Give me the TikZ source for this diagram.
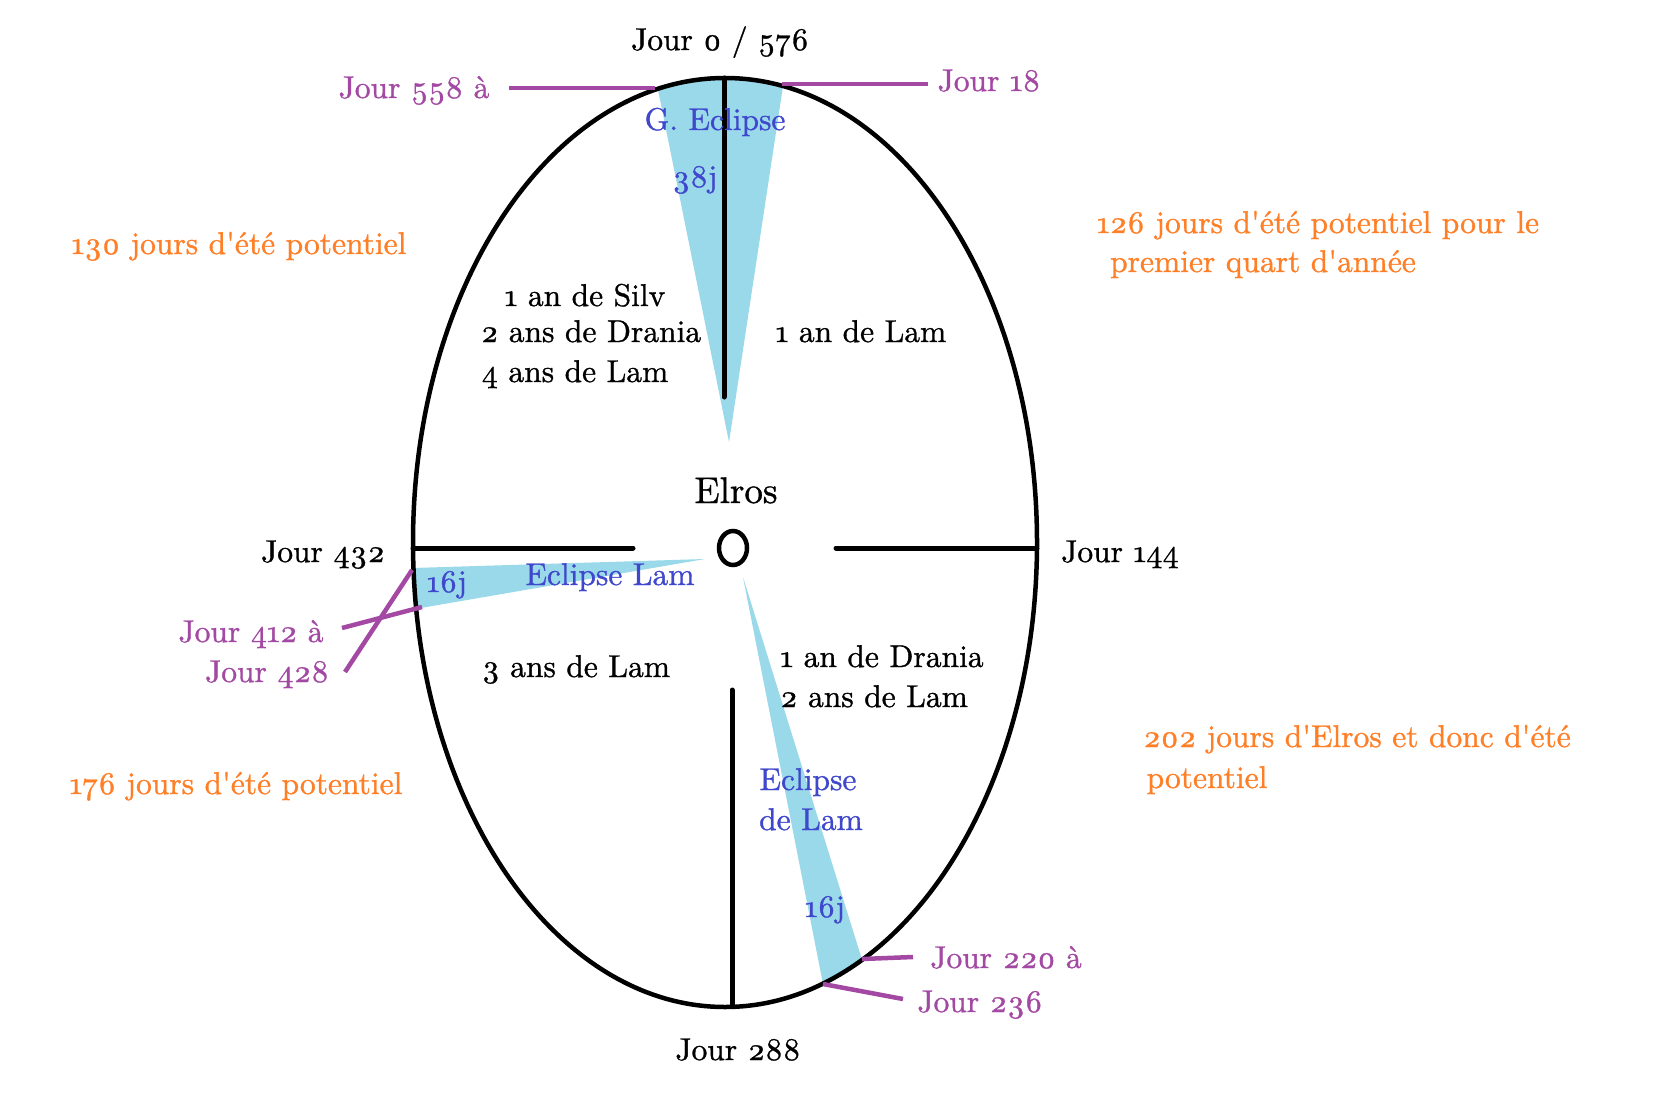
\documentclass[tikz,border=0pt]{standalone}
\usepackage{fontspec}
\setmainfont{lmroman10-regular.otf}[Numbers=OldStyle, Ligatures=TeXOff, FakeBold=1]
\definecolor{cyanw}{RGB}{153,217,234}
\definecolor{purp}{RGB}{163,73,164}
\definecolor{orng}{RGB}{255,127,39}
\definecolor{indig}{RGB}{63,72,204}
\tikzset{
  lbl/.style={font=\fontsize{31.5}{38}\selectfont, inner sep=0pt, anchor=base},
  blk/.style={lbl, text=black},
  pur/.style={lbl, text=purp},
  org/.style={lbl, text=orng},
  blu/.style={lbl, text=indig},
  axis/.style={draw=black, line width=5pt, line cap=round},
  lead/.style={draw=purp, line width=4.5pt},
  wedge/.style={fill=cyanw, draw=none}
}
\begin{document}
\begin{tikzpicture}[x=1pt,y=-1pt]
\useasboundingbox[fill=white] (0,0) rectangle (1659,1102);
% eclipse wedges clipped to the ellipse
\begin{scope}
  \clip (725,542.5) ellipse [x radius=312pt, y radius=464.5pt];
  \fill[wedge] (729,442) -- (648,40) -- (790,40) -- cycle;
  \fill[wedge] (705,559) -- (380,569) -- (380,615) -- cycle;
  \fill[wedge] (743,577) -- (834,1040) -- (887,1040) -- cycle;
\end{scope}
% ellipse
\draw[line width=4.5pt] (725,542.5) ellipse [x radius=312pt, y radius=464.5pt];
% axes
\coordinate (tA) at (724,78);   \coordinate (tB) at (724,397);
\coordinate (lA) at (413,548);  \coordinate (lB) at (633,548);
\coordinate (rA) at (836,548);  \coordinate (rB) at (1037,548);
\coordinate (bA) at (732,690);  \coordinate (bB) at (732,1005);
\draw[axis] (tA) -- (tB);
\draw[axis] (lA) -- (lB);
\draw[axis] (rA) -- (rB);
\draw[axis] (bA) -- (bB);
% Elros sun
\draw[line width=4.5pt] (733,548) ellipse [x radius=14pt, y radius=17pt];
% purple leaders
\coordinate (p1a) at (655,88);  \coordinate (p1b) at (509,88);
\coordinate (p2a) at (782,84);  \coordinate (p2b) at (928,84);
\coordinate (p3a) at (412,570); \coordinate (p3b) at (345,672);
\coordinate (p4a) at (422,607); \coordinate (p4b) at (342,628);
\coordinate (p5a) at (862,959); \coordinate (p5b) at (913,957);
\coordinate (p6a) at (823,984); \coordinate (p6b) at (903,999);
\draw[lead] (p1a) -- (p1b);
\draw[lead] (p2a) -- (p2b);
\draw[lead] (p3a) -- (p3b);
\draw[lead] (p4a) -- (p4b);
\draw[lead] (p5a) -- (p5b);
\draw[lead] (p6a) -- (p6b);
% texts
\node[blk] (j0) at (720,50) {Jour 0 / 576};
\node[pur] (j558) at (414,98) {Jour 558 à};
\node[pur] (j18) at (989,91) {Jour 18};
\node[blu] (ge) at (715,130) {G. Eclipse};
\node[blu] (d38) at (695,187) {38j};
\node[org] (o130) at (239,254) {130 jours d'été potentiel};
\node[org] (o126a) at (1318,233) {126 jours d'été potentiel pour le};
\node[org] (o126b) at (1263,272) {premier quart d'année};
\node[blk] (s1) at (585,306) {1 an de Silv};
\node[blk] (s2) at (591,342) {2 ans de Drania};
\node[blk] (s3) at (575,382) {4 ans de Lam};
\node[blk] (s4) at (861,342) {1 an de Lam};
\node[blk, font=\fontsize{37}{44}\selectfont] (elros) at (736,503) {Elros};
\node[blk] (j432) at (323,562) {Jour 432};
\node[blk] (j144) at (1120,562) {Jour 144};
\node[blu] (d16a) at (447,592) {16j};
\node[blu] (el) at (610,585) {Eclipse Lam};
\node[pur] (j412) at (251,642) {Jour 412 à};
\node[pur] (j428) at (267,682) {Jour 428};
\node[blk] (s5) at (576,677) {3 ans de Lam};
\node[blk] (s6) at (882,667) {1 an de Drania};
\node[blk] (s7) at (874,707) {2 ans de Lam};
\node[blu] (edl1) at (808,790) {Eclipse};
\node[blu] (edl2) at (811,830) {de Lam};
\node[blu] (d16b) at (825,917) {16j};
\node[org] (o176) at (236,794) {176 jours d'été potentiel};
\node[org] (o202a) at (1357,747) {202 jours d'Elros et donc d'été};
\node[org] (o202b) at (1207,788) {potentiel};
\node[pur] (j220) at (1006,968) {Jour 220 à};
\node[pur] (j236) at (980,1012) {Jour 236};
\node[blk] (j288) at (738,1060) {Jour 288};
\end{tikzpicture}
\end{document}
